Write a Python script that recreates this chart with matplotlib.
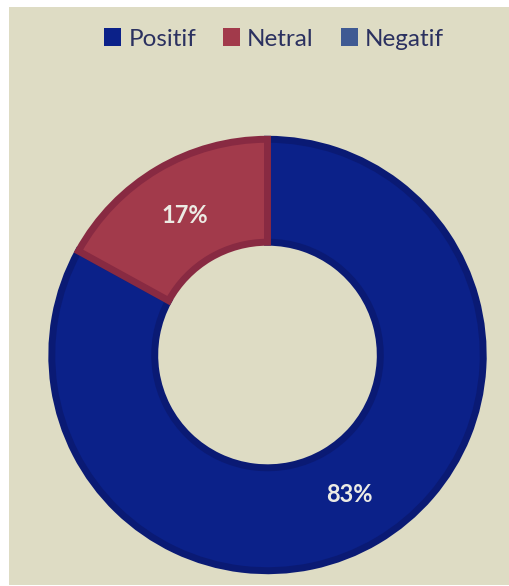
import matplotlib
matplotlib.use('Agg')
from matplotlib import pyplot as plt
from matplotlib.patches import Rectangle

labels = ['Positif', 'Netral', 'Negatif']
values = [83, 17, 0]
fills = ['#0b2189', '#a23a4b', '#3f5a93']
edges = ['#0a1a74', '#882a42', '#35507f']

bg = '#dedcc4'
plt.rcParams['font.family'] = ['Lato', 'DejaVu Sans']

fig = plt.figure(figsize=(5.10, 5.86), dpi=100, facecolor='white')
# beige panel, small white margin on top/left
fig.patches.append(Rectangle((9/510, 1/586), 501/510, 578/586, transform=fig.transFigure,
                             facecolor=bg, edgecolor='none', zorder=-5))

ax = fig.add_axes([(267.5-219)/510, (586-355-219)/586, 438/510, 438/586])
ax.set_facecolor('none')
ax.set_zorder(2)

# only slices with a value get drawn, legend keeps all of them
shown = [i for i, v in enumerate(values) if v > 0]
wedges, texts, autotexts = ax.pie(
    [values[i] for i in shown],
    colors=[fills[i] for i in shown],
    startangle=90, counterclock=False, radius=0.985,
    autopct='%d%%', pctdistance=0.75,
    wedgeprops=dict(width=0.47, linewidth=5, joinstyle='miter'),
    textprops=dict(color='#ecebe4', fontsize=17, fontweight='bold'))
for w, i in zip(wedges, shown):
    w.set_edgecolor(edges[i])
ax.set_xlim(-1, 1)
ax.set_ylim(-1, 1)
ax.axis('off')

handles = [Rectangle((0, 0), 1, 1, facecolor=c, edgecolor='none') for c in fills]
fig.legend(handles, labels, loc='center', bbox_to_anchor=(274/510, 1-39/586), ncol=3,
           frameon=False, fontsize=17.5, handlelength=0.7, handleheight=0.7,
           handletextpad=0.3, columnspacing=1.1, labelcolor='#2b3160')

fig.savefig('out.png', dpi=100, facecolor='white')
